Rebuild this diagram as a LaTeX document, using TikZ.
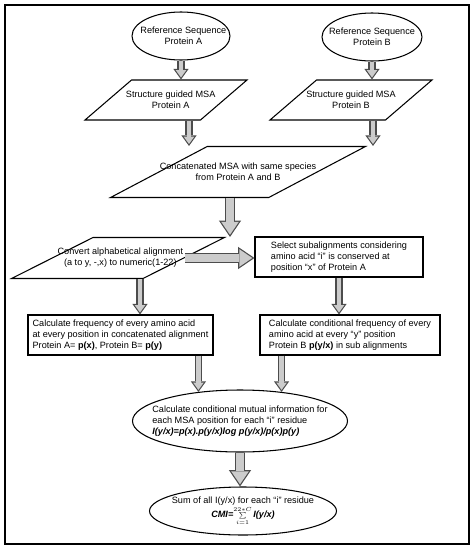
\documentclass[tikz,border=0pt]{standalone}
\usepackage{fontspec}
\setmainfont{Liberation Sans}
\usepackage{amsmath}
\usetikzlibrary{arrows.meta,positioning,shapes.geometric,calc}

\begin{document}
\begin{tikzpicture}[
        x=0.03cm, y=-0.03cm,
        font=\fontsize{7.8}{9.4}\selectfont,
        oval/.style={ellipse,draw,line width=0.9pt,inner sep=0pt},
        para/.style={trapezium,trapezium stretches=true,draw,line width=0.9pt,inner sep=1pt},
        box/.style={rectangle,draw,line width=0.9pt,align=left,inner sep=2pt,minimum height=1.2cm},
        fat/.style={preaction={draw=black!70,line width=6pt,-{Triangle[length=9pt,width=13pt,line width=0pt]},shorten >=0pt},
            draw=gray!40,line width=4pt,-{Triangle[length=6.3pt,width=9.1pt,line width=0pt]},shorten >=1.7pt},
        bigfat/.style={preaction={draw=black!70,line width=8.5pt,-{Triangle[length=14pt,width=19pt,line width=0pt]},shorten >=0pt},
            draw=gray!40,line width=6.3pt,-{Triangle[length=11pt,width=15pt,line width=0pt]},shorten >=1.9pt}
    ]
        \useasboundingbox (0,0) rectangle (475,550);
        \draw[line width=1.1pt] (5,5) rectangle (469,544);

        % inputs
        \node[oval,minimum width=2.94cm,minimum height=1.44cm,
            label={[align=center,xshift=2pt]center:{Reference Sequence\\Protein A}}] (refA) at (181,36) {};
        \node[oval,minimum width=3cm,minimum height=1.44cm,
            label={[align=center]center:{Reference Sequence\\Protein B}}] (refB) at (372,37) {};

        \node[para,trapezium left angle=56,trapezium right angle=124,minimum width=4.86cm,minimum height=1.2cm,
            label={[align=center,xshift=4pt]center:{Structure guided MSA\\Protein A}}] (msaA) at (166,100) {};
        \node[para,trapezium left angle=56,trapezium right angle=124,minimum width=4.86cm,minimum height=1.2cm,
            label={[align=center]center:{Structure guided MSA\\Protein B}}] (msaB) at (351,100) {};

        \node[para,trapezium left angle=32.5,trapezium right angle=147.5,minimum width=7.65cm,minimum height=1.53cm,
            label={[align=center]center:{Concatenated MSA with same species\\from Protein A and B}}] (concat) at (238,172) {};

        \node[para,trapezium left angle=31.5,trapezium right angle=148.5,minimum width=6.39cm,minimum height=1.23cm,
            label={[align=center,xshift=2pt]center:{Convert alphabetical alignment\\(a to y, -,x) to numeric(1-22)}}] (convert) at (118,258) {};
        \node[box,minimum width=5.04cm] (select) at (339,257) {Select subalignments considering\\amino acid ``i'' is conserved at\\position ``x'' of Protein A};

        \node[box,minimum width=5.55cm] (freq) at (120.5,335) {Calculate frequency of every amino acid\\at every position in concatenated alignment\\Protein A= \textbf{p(x)}, Protein B= \textbf{p(y)}};
        \node[box,minimum width=5.4cm] (condfreq) at (350,335) {Calculate conditional frequency of every\\amino acid at every ``y'' position\\Protein B \textbf{p(y/x)} in sub alignments};

        % result
        \node[oval,minimum width=6.45cm,minimum height=1.86cm,
            label={[align=left]center:{Calculate conditional mutual information for\\each MSA position for each ``i'' residue\\\textbf{\textit{I(y/x)=p(x).p(y/x)log p(y/x)/p(x)p(y)}}}}] (cmi) at (240,421) {};
        \node[oval,minimum width=5.61cm,minimum height=1.44cm,
            label={[align=center]center:{Sum of all I(y/x) for each ``i'' residue\\\textbf{\textit{CMI=}}$\scriptstyle\sum\limits_{i=1}^{22*C}$\,\textbf{\textit{I(y/x)}}}}] (sum) at (243,511) {};

        \draw[fat] (refA.south) -- (refA.south |- msaA.north);
        \draw[fat] (refB.south) -- (refB.south |- msaB.north);

        \draw[fat] ([xshift=0.69cm]msaA.south) -- ([xshift=0.69cm]msaA.south |- concat.north);
        \draw[fat] ([xshift=0.66cm]msaB.south) -- ([xshift=0.66cm]msaB.south |- concat.north);

        \draw[bigfat] ([xshift=-0.24cm]concat.south) -- ([xshift=-0.24cm]concat.south |- convert.north);
        \draw[bigfat] (convert.east) -- (convert.east -| select.west);

        \draw[fat] ([xshift=0.66cm]convert.south) -- ([xshift=0.66cm]convert.south |- freq.north);
        \draw[fat] (select.south) -- (select.south |- condfreq.north);

        \draw[fat] (cmi.145 |- freq.south) -- (cmi.145);
        \draw[fat] (cmi.35 |- condfreq.south) -- (cmi.35);

        \draw[bigfat] (cmi.south) -- (cmi.south |- sum.north);
    \end{tikzpicture}
\end{document}
